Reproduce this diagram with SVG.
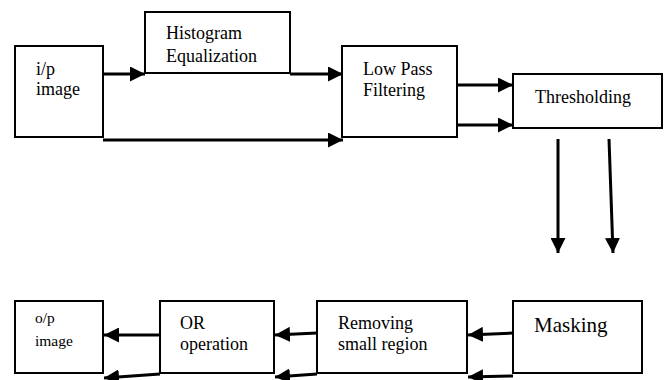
<svg xmlns="http://www.w3.org/2000/svg" width="666" height="380" viewBox="0 0 666 380">
<style>
.box{fill:#fff;stroke:#000;stroke-width:2}
.t{font-family:"Liberation Serif","Times New Roman",serif;font-size:18px;fill:#000}
.c line{stroke:#000;stroke-width:3;marker-end:url(#ah)}
</style>
<defs>
<marker id="ah" markerUnits="userSpaceOnUse" markerWidth="15" markerHeight="15" refX="15" refY="7.5" orient="auto" viewBox="0 0 15 15">
<path d="M0,0 L15,7.5 L0,15 z" fill="#000"/>
</marker>
</defs>
<rect width="666" height="380" fill="#fff"/>
<g id="ip"><rect class="box" x="15" y="46" width="88" height="91"/><text class="t" x="36" y="75">i/p</text><text class="t" x="36" y="95">image</text></g>
<g id="hist"><rect class="box" x="145" y="12" width="145" height="61"/><text class="t" x="166" y="39">Histogram</text><text class="t" x="166" y="62">Equalization</text></g>
<g id="lpf"><rect class="box" x="342" y="46" width="115" height="91"/><text class="t" x="363" y="75">Low Pass</text><text class="t" x="363" y="96">Filtering</text></g>
<g id="thr"><rect class="box" x="513" y="74" width="149" height="54"/><text class="t" x="535" y="103">Thresholding</text></g>
<g id="mask"><rect class="box" x="513" y="301" width="129" height="72"/><text class="t" x="534" y="332" style="font-size:21px">Masking</text></g>
<g id="rem"><rect class="box" x="317" y="301" width="150" height="72"/><text class="t" x="338" y="329">Removing</text><text class="t" x="338" y="350">small region</text></g>
<g id="or"><rect class="box" x="160" y="301" width="114" height="72"/><text class="t" x="180" y="329">OR</text><text class="t" x="180" y="350">operation</text></g>
<g id="op"><rect class="box" x="15" y="301" width="88" height="72"/><text class="t" x="35" y="323" style="font-size:15.5px">o/p</text><text class="t" x="35" y="346" style="font-size:15.5px">image</text></g>
<g id="connectors" class="c">
<line x1="103" y1="74" x2="145" y2="74"/>
<line x1="290" y1="74" x2="343" y2="74"/>
<line x1="103" y1="140" x2="343" y2="140"/>
<line x1="457" y1="85" x2="513" y2="85"/>
<line x1="457" y1="125" x2="513" y2="125"/>
<line x1="558" y1="139" x2="558" y2="253"/>
<line x1="609" y1="139" x2="613" y2="253"/>
<line x1="513" y1="333" x2="468" y2="335"/>
<line x1="513" y1="376" x2="468" y2="377"/>
<line x1="317" y1="333" x2="275" y2="335"/>
<line x1="317" y1="374" x2="275" y2="377"/>
<line x1="160" y1="335" x2="104" y2="335"/>
<line x1="160" y1="374" x2="104" y2="378"/>
</g>
</svg>
